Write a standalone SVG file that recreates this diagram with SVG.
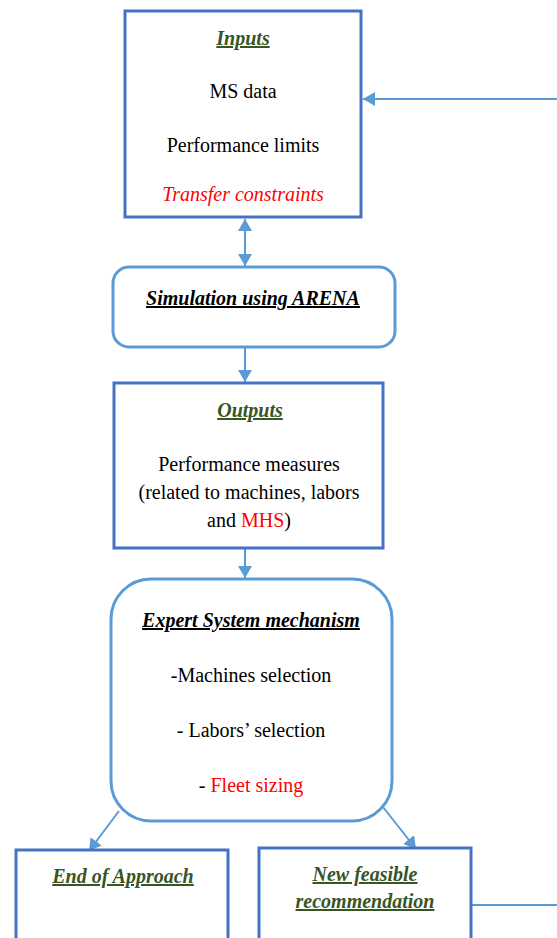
<svg xmlns="http://www.w3.org/2000/svg" width="557" height="938" viewBox="0 0 557 938">
<style>
  text { font-family: 'Liberation Serif', Tinos, 'Times New Roman', Times, 'DejaVu Serif', serif; font-size: 20px; text-anchor: middle; fill: #000; }
  .box { fill: #fff; stroke: #4472C4; stroke-width: 3; }
  .rbox { fill: #fff; stroke: #5B9BD5; stroke-width: 3; }
  .title { font-weight: bold; font-style: italic; text-decoration: underline; }
  .green { fill: #375623; }
  .red { fill: #FF0000; }
  .it { font-style: italic; }
  .conn { stroke: #5B9BD5; stroke-width: 2; fill: none; }
</style>
<defs>
  <marker id="ah" viewBox="0 0 12 14" refX="12" refY="7" markerWidth="12" markerHeight="14" markerUnits="userSpaceOnUse" orient="auto-start-reverse">
    <path d="M0,0 L12,7 L0,14 Z" fill="#5B9BD5"/>
  </marker>
</defs>
<rect width="557" height="938" fill="#fff"/>

<g id="connectors">
  <line class="conn" x1="245" y1="219" x2="245" y2="266" marker-start="url(#ah)" marker-end="url(#ah)"/>
  <line class="conn" x1="245" y1="348" x2="245" y2="382" marker-end="url(#ah)"/>
  <line class="conn" x1="245" y1="549" x2="245" y2="578" marker-end="url(#ah)"/>
  <line class="conn" x1="119" y1="811" x2="89" y2="851" marker-end="url(#ah)"/>
  <line class="conn" x1="383" y1="807" x2="416" y2="849" marker-end="url(#ah)"/>
  <line class="conn" x1="557" y1="99" x2="363" y2="99" marker-end="url(#ah)"/>
  <line class="conn" x1="472" y1="905" x2="557" y2="905"/>
</g>

<g id="inputs">
  <rect class="box" x="125" y="11" width="236" height="206"/>
  <text class="title green" x="243" y="45" font-family="Liberation Serif, serif">Inputs</text>
  <text x="243" y="98" font-family="Liberation Serif, serif">MS data</text>
  <text x="243" y="152">Performance limits</text>
  <text class="it red" x="243" y="201">Transfer constraints</text>
</g>

<g id="simulation">
  <rect class="rbox" x="113" y="267" width="282" height="80" rx="16"/>
  <text class="title" x="253" y="305">Simulation using ARENA</text>
</g>

<g id="outputs">
  <rect class="box" x="114" y="383" width="269" height="165"/>
  <text class="title green" x="250" y="417">Outputs</text>
  <text x="249" y="471">Performance measures</text>
  <text x="249" y="499">(related to machines, labors</text>
  <text x="249" y="527">and <tspan class="red">MHS</tspan>)</text>
</g>

<g id="expert">
  <rect class="rbox" x="111" y="579" width="281" height="242" rx="40"/>
  <text class="title" x="251" y="627">Expert System mechanism</text>
  <text x="251" y="682">-Machines selection</text>
  <text x="251" y="737">- Labors’ selection</text>
  <text x="251" y="792">- <tspan class="red">Fleet sizing</tspan></text>
</g>

<g id="end">
  <rect class="box" x="16" y="850" width="212" height="100"/>
  <text class="title green" x="123" y="883">End of Approach</text>
</g>

<g id="recommendation">
  <rect class="box" x="259" y="848" width="212" height="100"/>
  <text class="title green" x="365" y="881">New feasible</text>
  <text class="title green" x="365" y="908">recommendation</text>
</g>
</svg>
